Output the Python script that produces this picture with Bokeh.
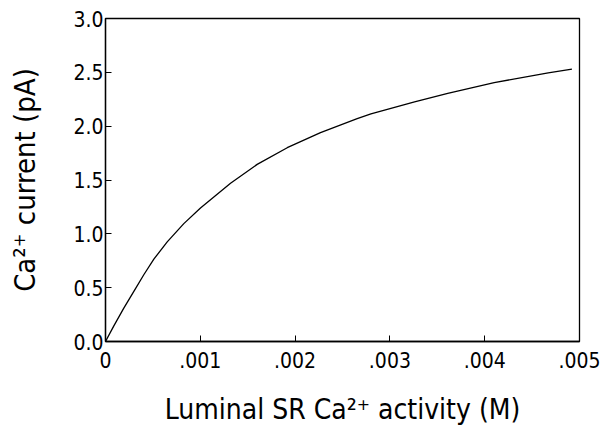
from bokeh.plotting import figure
from bokeh.models import FixedTicker, Range1d
from bokeh.embed import file_html
from bokeh.resources import INLINE

# data
activity_M = [0.0, 0.000088, 0.000193, 0.000299, 0.000404, 0.000510, 0.000651,
              0.000826, 0.001002, 0.001319, 0.001600, 0.001917, 0.002268,
              0.002655, 0.002800, 0.003260, 0.003610, 0.004100, 0.004670, 0.004920]
current_pA = [0.0, 0.145, 0.310, 0.465, 0.620, 0.765, 0.925,
              1.095, 1.240, 1.470, 1.645, 1.800, 1.940,
              2.070, 2.115, 2.225, 2.305, 2.405, 2.495, 2.530]

x_ticks = [0, 0.001, 0.002, 0.003, 0.004, 0.005]
x_tick_labels = ["0", ".001", ".002", ".003", ".004", ".005"]
y_ticks = [0.0, 0.5, 1.0, 1.5, 2.0, 2.5, 3.0]
y_tick_labels = ["0.0", "0.5", "1.0", "1.5", "2.0", "2.5", "3.0"]
x_title = "Luminal SR Ca\u00b2\u207a activity (M)"
y_title = "Ca\u00b2\u207a current (pA)"

FONT = "DejaVu Sans Condensed"

W, H = 600, 434
BL, BR, BT, BB = 105, 21, 18, 93

p = figure(width=W, height=H, output_backend="svg", toolbar_location=None,
           x_range=Range1d(0, 0.005), y_range=Range1d(0, 3.0),
           min_border_left=BL, min_border_right=BR, min_border_top=BT,
           min_border_bottom=BB)
p.grid.visible = False
p.outline_line_color = "black"
p.outline_line_width = 1.3
p.background_fill_color = "white"
p.border_fill_color = "white"

p.line(activity_M, current_pA, line_color="black", line_width=1.3)

for ax in (p.xaxis[0], p.yaxis[0]):
    ax.axis_line_color = "black"
    ax.axis_line_width = 1.3
    ax.major_tick_in = 6
    ax.major_tick_out = 0
    ax.minor_tick_line_color = None
    ax.major_tick_line_color = "black"
    ax.major_label_text_font = FONT
    ax.major_label_text_font_size = "21px"
    ax.major_label_text_color = "black"
    ax.axis_label_text_font = FONT
    ax.axis_label_text_font_style = "normal"
    ax.axis_label_text_color = "black"

p.xaxis[0].axis_label_text_font_size = "28px"
p.yaxis[0].axis_label_text_font_size = "29px"
p.xaxis[0].ticker = FixedTicker(ticks=x_ticks)
p.xaxis[0].major_label_overrides = {t: l for t, l in zip(x_ticks, x_tick_labels)}
p.yaxis[0].ticker = FixedTicker(ticks=y_ticks)
p.yaxis[0].major_label_overrides = {t: l for t, l in zip(y_ticks, y_tick_labels)}
p.xaxis[0].major_label_standoff = 10
p.yaxis[0].major_label_standoff = 2
p.xaxis[0].axis_label = x_title
p.yaxis[0].axis_label = y_title
p.xaxis[0].axis_label_standoff = 22
p.yaxis[0].axis_label_standoff = 28

open("out.html", "w").write(file_html(p, INLINE))
